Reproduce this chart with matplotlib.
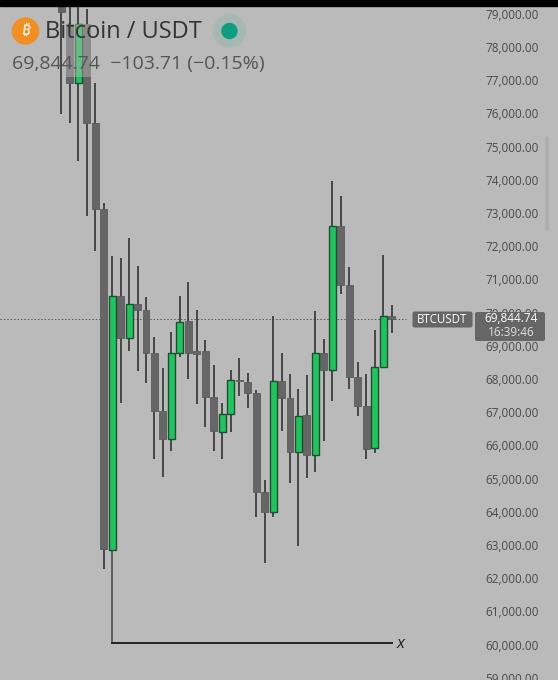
import matplotlib
matplotlib.use("Agg")
import matplotlib.pyplot as plt
from matplotlib.patches import Circle, FancyBboxPatch, Rectangle
import numpy as np

# daily candles
opens = [79250, 78710, 76940, 78710, 75735, 73135, 62865, 70530, 69260, 70275,
         70095, 68810, 67040, 66220, 68810, 69770, 68850, 68850, 67465, 66430,
         66950, 67990, 67935, 67600, 64620, 64020, 67955, 67435, 65825, 66920,
         65725, 68790, 68285, 72625, 70845, 68065, 67210, 65930, 68375, 69900]
highs = [79580, 79580, 79580, 79160, 76930, 73316, 71720, 71660, 72260, 71420,
         70480, 69270, 68355, 69430, 70515, 70945, 70095, 69190, 68435, 67285,
         68285, 68655, 68205, 67685, 64975, 69920, 68810, 68165, 67715, 68135,
         70055, 69220, 73980, 73530, 71380, 68520, 68155, 69480, 71740, 70235]
lows = [76000, 75725, 74580, 72925, 71870, 62300, 62865, 67300, 68870, 68265,
        67885, 65615, 65070, 65840, 68690, 68025, 67255, 66580, 65840, 65615,
        66420, 67510, 67150, 63870, 62465, 63870, 66460, 64875, 62985, 65025,
        65225, 66155, 67360, 70575, 67725, 66900, 65595, 65780, 68355, 69390]
closes = [79070, 76940, 78710, 75735, 73135, 62895, 70530, 69260, 70280, 70095,
          68810, 67040, 66220, 68790, 69730, 68790, 68780, 67465, 66440, 66960,
          67975, 67960, 67600, 64620, 64020, 67945, 67435, 65825, 66910, 65725,
          68790, 68285, 72625, 70845, 68065, 67210, 65915, 68375, 69905, 69815]

price_ticks = [79000, 78000, 77000, 76000, 75000, 74000, 73000, 72000, 71000, 70000,
               69000, 68000, 67000, 66000, 65000, 64000, 63000, 62000, 61000, 60000, 59000]
last_price = 69844.74
last_price_y = 69815   # where the dotted line sits
annot_idx = 6
annot_top = 62865
annot_bottom = 60060
annot_end = 39

BG = "#bababa"
GREY = "#666666"
GREEN = "#22c35e"
TXT = "#4a4a4a"
FONT = "Open Sans"

plt.rcParams["font.family"] = [FONT, "DejaVu Sans"]

fig = plt.figure(figsize=(5.58, 6.80), dpi=100, facecolor=BG)
ax = fig.add_axes([0, 0, 1, 1], facecolor=BG)
ax.set_xlim(-7.237, 58.64)
ax.set_ylim(58949, 79431)
ax.axis("off")

o = np.array(opens)
h = np.array(highs)
l = np.array(lows)
c = np.array(closes)
idx = np.arange(len(o))
up = c > o

# price scale first, the last price box sits on top of it
for p in price_ticks:
    ax.text(512 / 8.47 - 7.237, p - 30, f"{p:,.2f}", ha="center", va="center",
            fontsize=8.5, color=TXT, zorder=1)

ax.hlines(last_price_y, -7.237, 40.7, color="#555555", lw=0.7, linestyles=(0, (1.5, 2)), zorder=1)

ax.vlines(idx, l, h, color="#333333", lw=1.2, zorder=2)
ax.bar(idx[~up], (o - c)[~up], bottom=c[~up], width=0.82, color=GREY, edgecolor="#5c5c5c", lw=0.6, zorder=3)
ax.bar(idx[up], (c - o)[up], bottom=o[up], width=0.82, color=GREEN, edgecolor="#1d4f33", lw=1.0, zorder=3)

# hand drawn lines under the big green candle
ax.plot([annot_idx, annot_idx], [annot_top, annot_bottom], color="#444444", lw=1.1, zorder=2)
ax.plot([annot_idx, annot_end], [annot_bottom, annot_bottom], color="#222222", lw=1.4, zorder=2)

# everything on the screen itself, in pixels
ui = fig.add_axes([0, 0, 1, 1], facecolor="none")
ui.set_xlim(0, 558)
ui.set_ylim(680, 0)
ui.axis("off")

ui.add_patch(Rectangle((0, 0), 558, 6, color="black", zorder=5))
ui.add_patch(Rectangle((65.5, 24), 25, 53, color=BG, alpha=0.45, lw=0, zorder=2))

ui.text(397, 644, "x", style="italic", fontsize=12, color="#222222", va="center", zorder=3)

# header
ui.add_patch(Circle((25.5, 31), 13, color="#f28f24", zorder=3))
ui.text(25.5, 31, "₿", family=["Noto Sans", "Roboto", "Inter", "Lato", "Liberation Sans", "DejaVu Sans"],
        fontweight="bold", fontsize=11, color="white",
        ha="center", va="center", rotation=-10, zorder=4)
ui.text(45, 32.5, "Bitcoin / USDT", fontsize=17, color="#333333", va="center", zorder=3)
ui.add_patch(Circle((229.5, 31), 16, color="#a5b8b2", zorder=3))
ui.add_patch(Circle((229.5, 31), 7.5, color="#0e9d7f", zorder=4))
ui.text(12, 63.5, "69,844.74  \u2212103.71 (\u22120.15%)", fontsize=14, color="#555555", va="center", zorder=3)

# right side boxes
ui.add_patch(FancyBboxPatch((414, 313), 57, 13, boxstyle="round,pad=1.5,rounding_size=2", color="#666666", lw=0, zorder=3))
ui.text(442.5, 319.5, "BTCUSDT", fontsize=8.3, color="white", ha="center", va="center", zorder=4)
ui.add_patch(FancyBboxPatch((476, 313), 68, 27, boxstyle="round,pad=1,rounding_size=2", color="#666666", lw=0, zorder=3))
ui.text(511, 319, f"{last_price:,.2f}", fontsize=8.5, color="white", ha="center", va="center", zorder=4)
ui.text(511, 332, "16:39:46", fontsize=8.5, color="#e0e0e0", ha="center", va="center", zorder=4)

# scrollbar
ui.plot([547, 547], [138, 229], color="#adadad", lw=2.6, solid_capstyle="round", zorder=2)

fig.savefig("out.png", dpi=100, facecolor=BG)
